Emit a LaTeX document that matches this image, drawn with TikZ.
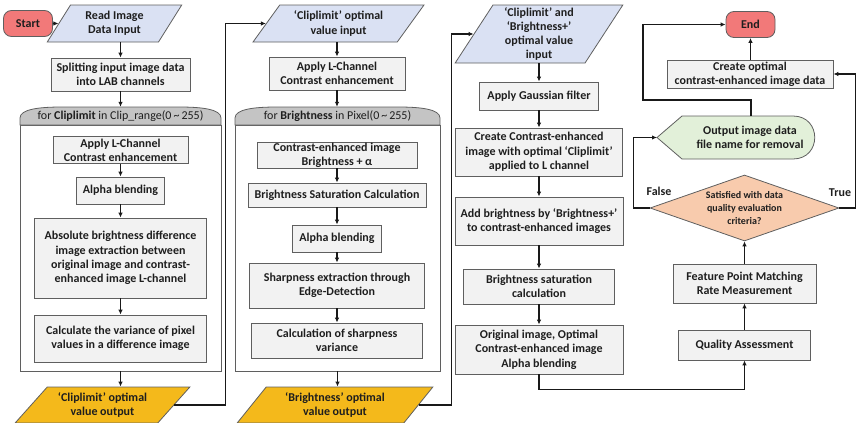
\documentclass[tikz,border=0pt]{standalone}
\usepackage{fontspec}
\setmainfont{Carlito}
\usetikzlibrary{arrows.meta,shapes.geometric}
\definecolor{txtc}{RGB}{30,30,30}
\definecolor{linec}{RGB}{25,25,25}
\definecolor{edgec}{RGB}{95,95,95}
\definecolor{boxc}{RGB}{242,242,242}
\definecolor{termc}{RGB}{242,121,121}
\definecolor{inc}{RGB}{218,225,243}
\definecolor{outc}{RGB}{244,185,27}
\definecolor{capc}{RGB}{196,196,196}
\definecolor{dispc}{RGB}{226,240,217}
\definecolor{decc}{RGB}{248,203,173}

\begin{document}
\begin{tikzpicture}[x=1pt,y=-1pt,
  every node/.style={font=\fontsize{12}{14.3}\selectfont\bfseries,text=txtc,align=center,inner sep=0pt},
  proc/.style={draw=edgec,fill=boxc,line width=0.8pt},
  term/.style={draw=edgec,fill=termc,rounded corners=8pt,line width=0.8pt,minimum width=49,minimum height=26},
  io/.style={trapezium,trapezium stretches=true,draw=edgec,line width=0.8pt},
  frm/.style={draw=edgec,fill=white,line width=0.8pt},
  flow/.style={draw=linec,line width=1.1pt,-{Latex[length=5pt,width=4.5pt]}}]
\useasboundingbox (0,0) rectangle (857,423);
% first column: clip limit search
\node[term] (start) at (28,23.5) {Start};
\node[io,fill=inc,trapezium left angle=58,trapezium right angle=122,minimum width=135,minimum height=37] (rd) at (114.5,23.5) {Read Image\\Data Input};
\node[proc,minimum width=139,minimum height=33] (spl) at (120.5,74.5) {Splitting input image data\\into LAB channels};
\node[frm,minimum width=201,minimum height=246] (fa) at (120.5,248) {};
\draw[draw=edgec,fill=capc,line width=0.8pt] (20,125) -- (20,118) .. controls (20,109) and (40,107) .. (62,107) -- (179,107) .. controls (201,107) and (221,109) .. (221,118) -- (221,125) -- cycle;
\node[minimum width=201,minimum height=18] (capa) at (120.5,116) {\mdseries for \textbf{Cliplimit} in Clip\_range(0\,\textasciitilde\,255)};
\node[proc,minimum width=135,minimum height=27] (la1) at (120.5,150) {Apply L-Channel\\Contrast enhancement};
\node[proc,minimum width=88,minimum height=27] (ab1) at (120.5,190.5) {Alpha blending};
\node[proc,minimum width=172,minimum height=80] (diff) at (120.5,258) {Absolute brightness difference\\image extraction between\\original image and contrast-\\enhanced image L-channel};
\node[proc,minimum width=172,minimum height=47] (var) at (120.5,338.5) {Calculate the variance of pixel\\values in a difference image};
\node[io,fill=outc,trapezium left angle=44,trapezium right angle=136,minimum width=175,minimum height=36] (outa) at (102.5,405) {‘Cliplimit’ optimal\\value output};
% second column: brightness search
\node[io,fill=inc,trapezium left angle=51,trapezium right angle=129,minimum width=171,minimum height=37] (cin) at (338.5,23.5) {‘Cliplimit’ optimal\\value input};
\node[proc,minimum width=136,minimum height=33] (la2) at (337,73.5) {Apply L-Channel\\Contrast enhancement};
\node[frm,minimum width=205,minimum height=246] (fb) at (337.5,248) {};
\draw[draw=edgec,fill=capc,line width=0.8pt] (235,125) -- (235,118) .. controls (235,109) and (255,107) .. (277,107) -- (398,107) .. controls (420,107) and (440,109) .. (440,118) -- (440,125) -- cycle;
\node[minimum width=205,minimum height=18] (capb) at (337.5,116) {\mdseries for \textbf{Brightness} in Pixel(0\,\textasciitilde\,255)};
\node[proc,minimum width=160,minimum height=26] (cb) at (337,155) {Contrast-enhanced image\\Brightness + α};
\node[proc,minimum width=178,minimum height=24] (bs) at (337,195) {Brightness Saturation Calculation};
\node[proc,minimum width=89,minimum height=27] (ab2) at (337,238.5) {Alpha blending};
\node[proc,minimum width=175,minimum height=45] (sh) at (337,285.5) {Sharpness extraction through\\Edge-Detection};
\node[proc,minimum width=171,minimum height=35] (sv) at (337,340.5) {Calculation of sharpness\\variance};
\node[io,fill=outc,trapezium left angle=50,trapezium right angle=130,minimum width=196,minimum height=36] (outb) at (335,405) {‘Brightness’ optimal\\value output};
% third column: apply optimal values
\node[io,fill=inc,trapezium left angle=62,trapezium right angle=118,minimum width=168,minimum height=58] (ccin) at (539,34) {‘Cliplimit’ and\\‘Brightness+’\\optimal value\\input};
\node[proc,minimum width=119,minimum height=28] (gf) at (539,96) {Apply Gaussian filter};
\node[proc,minimum width=167,minimum height=48] (ce) at (539,152) {Create Contrast-enhanced\\image with optimal ‘Cliplimit’\\applied to L channel};
\node[proc,minimum width=168,minimum height=48] (abr) at (539,221) {Add brightness by ‘Brightness+’\\to contrast-enhanced images};
\node[proc,minimum width=151,minimum height=35] (bsc) at (539,286.5) {Brightness saturation\\calculation};
\node[proc,minimum width=168,minimum height=49] (orig) at (539,349.5) {Original image, Optimal\\Contrast-enhanced image\\Alpha blending};
% fourth column: quality check
\node[proc,minimum width=132,minimum height=30] (qa) at (744.5,345) {Quality Assessment};
\node[proc,minimum width=143,minimum height=39] (fp) at (744.5,283.5) {Feature Point Matching\\Rate Measurement};
\node[diamond,draw=edgec,fill=decc,line width=0.8pt,aspect=2.86,minimum width=189,minimum height=66,font=\fontsize{10}{13}\selectfont\bfseries] (dec) at (744.5,208) {Satisfied with data\\quality evaluation\\criteria?};
\draw[draw=edgec,fill=dispc,line width=0.8pt] (657,137.5) -- (682,116) -- (793,116) .. controls (822,116) and (822,159) .. (793,159) -- (682,159) -- cycle;
\node (rmv) at (750,137.5) {Output image data\\file name for removal};
\coordinate (rmvtip) at (657,137.5); \coordinate (rmvtop) at (751,116);
\node[proc,minimum width=166,minimum height=28] (cr) at (750,74) {Create optimal\\contrast-enhanced image data};
\node[term] (end) at (750.5,24.5) {End};
\node (lf) at (659,191) {False};
\node (lt) at (840,193) {True};
% connectors
\draw[flow] (start) -- (rd.west);
\draw[flow] (spl.north |- rd.south) -- (spl.north);
\draw[flow] (spl) -- (capa);
\draw[flow] (la1) -- (ab1); \draw[flow] (ab1) -- (diff); \draw[flow] (diff) -- (var);
\draw[flow] (fa.south) -- (fa.south |- outa.north);
\draw[flow] (outa.east) -| ([xshift=-40pt]cin.west) -- (cin.west);
\draw[flow] (la2.north |- cin.south) -- (la2.north);
\draw[flow] (la2.south) -- (la2.south |- capb.north);
\draw[flow] (cb) -- (bs); \draw[flow] (bs) -- (ab2); \draw[flow] (ab2) -- (sh); \draw[flow] (sh) -- (sv);
\draw[flow] (fb.south) -- (fb.south |- outb.north);
\draw[flow] (outb.east) -| ([xshift=-22pt]ccin.west) -- (ccin.west);
\draw[flow] (gf.north |- ccin.south) -- (gf.north);
\draw[flow] (gf) -- (ce); \draw[flow] (ce) -- (abr); \draw[flow] (abr) -- (bsc); \draw[flow] (bsc) -- (orig);
\draw[flow] (orig.south) -- ++(0,15) -| (qa.south);
\draw[flow] (qa) -- (fp); \draw[flow] (fp) -- (dec);
\draw[flow] (dec.west) -- ++(-16,0) |- (rmvtip);
\draw[flow] (dec.east) -- ++(16,0) |- (cr.east);
\draw[flow] (rmvtop) -- ++(0,-16) -- ++(-108,0) |- (end.west);
\draw[flow] (cr.north -| end.south) -- (end.south);
\end{tikzpicture}
\end{document}
